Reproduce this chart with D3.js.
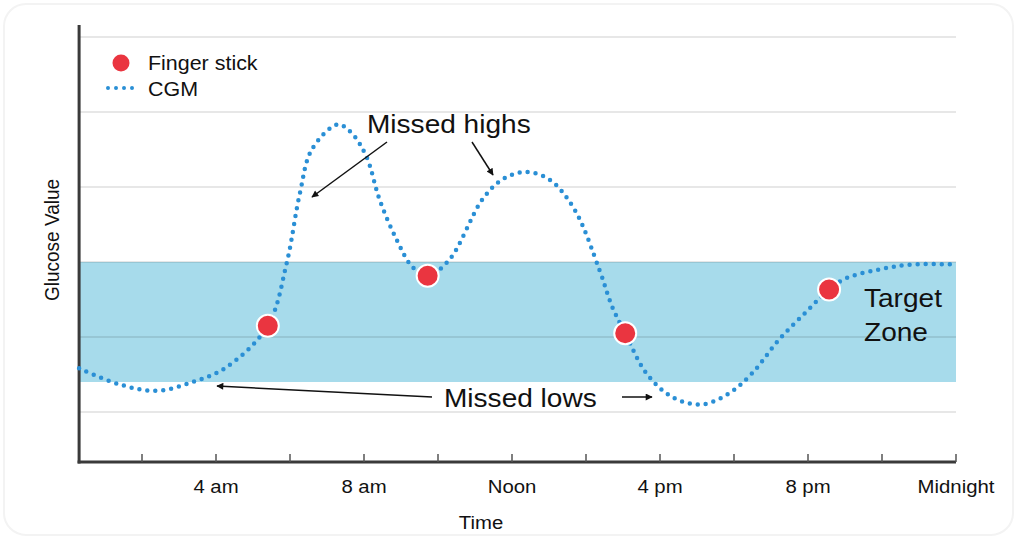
<!DOCTYPE html>
<html>
<head>
<meta charset="utf-8">
<script src="https://cdn.jsdelivr.net/npm/d3@7"></script>
<style>
  body { margin: 0; background: #fff; }
  svg { display: block; font-family: "Liberation Sans", Arial, sans-serif; }
</style>
</head>
<body>
<div id="chart"></div>
<script>
// CGM trace vs finger sticks over one day

// hours since midnight / glucose value (arbitrary units)
const cgmHours  = [0.3, 1.4, 2.4, 3.37, 4.29, 5.4, 5.91, 6.26, 6.59, 7.29, 7.67, 8.07, 8.42, 8.88, 9.31, 9.72,
                   10.31, 11.2, 11.74, 12.34, 13.01, 13.69, 14.36, 14.71, 15.06, 15.63, 16.33, 17.12, 17.87,
                   18.49, 19.22, 19.95, 20.57, 21.03, 21.92, 22.81, 24]
const cgmValues = [75, 62, 57, 64, 76, 109, 159, 214, 250, 270, 263, 244, 210, 178, 156, 149,
                   162, 210, 226, 232, 226, 202, 154, 124, 103, 71, 52, 46, 55,
                   71, 98, 120, 138, 147, 154, 158, 158]

const fingerHours  = [5.4, 9.72, 15.06, 20.57]
const fingerValues = [109, 149, 103, 138]

const gridValues = [40, 100, 160, 220, 280, 340]
const targetZone = [64, 160]

const tickHours  = [2, 4, 6, 8, 10, 12, 14, 16, 18, 20, 22, 24]
const labelHours = [4, 8, 12, 16, 20, 24]
const labelNames = ["4 am", "8 am", "Noon", "4 pm", "8 pm", "Midnight"]

const width = 1017, height = 539,
      sx = 1.1   // the original picture is a little stretched sideways

const svg = d3.select("#chart").append("svg")
    .attr("width", width)
    .attr("height", height)

// faint rounded frame of the original picture
svg.append("rect")
    .attr("x", 4).attr("y", 4).attr("width", width - 8).attr("height", height - 8)
    .attr("rx", 22)
    .attr("fill", "none").attr("stroke", "#f3f3f3").attr("stroke-width", 2)

const x = d3.scaleLinear().domain([0, 24]).range([68, 956])
const y = d3.scaleLinear().domain([0, 349.6]).range([462, 25])
const x0 = x(cgmHours[0])

const defs = svg.append("defs")
defs.append("marker")
    .attr("id", "arrow")
    .attr("viewBox", "0 0 10 10")
    .attr("refX", 9).attr("refY", 5)
    .attr("markerWidth", 8).attr("markerHeight", 7)
    .attr("markerUnits", "userSpaceOnUse")
    .attr("orient", "auto")
  .append("path")
    .attr("d", "M0,0 L10,5 L0,10 Z")
    .attr("fill", "#111")

let label = function(parent, px, py, str, size, anchor) {
  return parent.append("text")
    .attr("transform", `translate(${px},${py}) scale(${sx},1)`)
    .attr("font-size", size + "px")
    .attr("text-anchor", anchor || "start")
    .attr("fill", "#111")
    .text(str)
}

// target zone
svg.append("rect")
    .attr("x", x0)
    .attr("y", y(targetZone[1]))
    .attr("width", x(24) - x0)
    .attr("height", y(targetZone[0]) - y(targetZone[1]))
    .attr("fill", "#a7dbeb")

// gridlines
svg.append("g").selectAll("line").data(gridValues).enter().append("line")
    .attr("x1", x0).attr("x2", x(24))
    .attr("y1", d => y(d)).attr("y2", d => y(d))
    .attr("stroke", "rgba(0,0,0,0.13)")
    .attr("stroke-width", 1.5)

// axes
svg.append("line")
    .attr("x1", x0).attr("x2", x0)
    .attr("y1", y.range()[1]).attr("y2", y(0) + 1.5)
    .attr("stroke", "#3a3a3a").attr("stroke-width", 3)

svg.append("line")
    .attr("x1", x0 - 1.5).attr("x2", x(24))
    .attr("y1", y(0)).attr("y2", y(0))
    .attr("stroke", "#3a3a3a").attr("stroke-width", 3)

svg.append("g").selectAll("line").data(tickHours).enter().append("line")
    .attr("x1", d => x(d)).attr("x2", d => x(d))
    .attr("y1", y(0)).attr("y2", y(0) - 8)
    .attr("stroke", "#555").attr("stroke-width", 1.5)

svg.append("g").selectAll("text").data(labelHours).enter().append("text")
    .attr("transform", d => `translate(${x(d)},493) scale(${sx},1)`)
    .attr("text-anchor", "middle")
    .attr("font-size", "18.5px")
    .attr("fill", "#111")
    .text((d, i) => labelNames[i])

label(svg, 481, 529, "Time", 18.5, "middle")

svg.append("text")
    .attr("transform", `translate(59,240) scale(${sx},1) rotate(-90)`)
    .attr("text-anchor", "middle")
    .attr("font-size", "19px")
    .attr("fill", "#111")
    .text("Glucose Value")

// CGM dotted trace
const line = d3.line()
    .x((d, i) => x(cgmHours[i]))
    .y(d => y(d))
    .curve(d3.curveCatmullRom.alpha(0.5))

svg.append("path")
    .datum(cgmValues)
    .attr("d", line)
    .attr("fill", "none")
    .attr("stroke", "#2a8fd5")
    .attr("stroke-width", 4.5)
    .attr("stroke-linecap", "round")
    .attr("stroke-dasharray", "0 8")

// finger sticks
svg.append("g").selectAll("circle").data(fingerValues).enter().append("circle")
    .attr("cx", (d, i) => x(fingerHours[i]))
    .attr("cy", d => y(d))
    .attr("r", 11)
    .attr("fill", "#ea3540")
    .attr("stroke", "#fff")
    .attr("stroke-width", 2)

// legend
svg.append("circle")
    .attr("cx", 121).attr("cy", 63).attr("r", 8.5)
    .attr("fill", "#ea3540")
svg.append("line")
    .attr("x1", 108).attr("x2", 134).attr("y1", 88).attr("y2", 88)
    .attr("stroke", "#2a8fd5").attr("stroke-width", 4)
    .attr("stroke-linecap", "round").attr("stroke-dasharray", "0 8")
label(svg, 148, 70, "Finger stick", 19.5)
label(svg, 148, 96, "CGM", 19.5)

// annotations
label(svg, 367, 133, "Missed highs", 25.5)
label(svg, 444, 407, "Missed lows", 25.5)
label(svg, 864, 307, "Target", 25.5)
label(svg, 864, 341, "Zone", 25.5)

const arrows = [
  [387, 142, 312, 197],
  [472, 142, 493, 175],
  [432, 397, 217, 386],
  [622, 397, 652, 397]
]
svg.append("g").selectAll("line").data(arrows).enter().append("line")
    .attr("x1", d => d[0]).attr("y1", d => d[1])
    .attr("x2", d => d[2]).attr("y2", d => d[3])
    .attr("stroke", "#111").attr("stroke-width", 1.5)
    .attr("marker-end", "url(#arrow)")
</script>
</body>
</html>
